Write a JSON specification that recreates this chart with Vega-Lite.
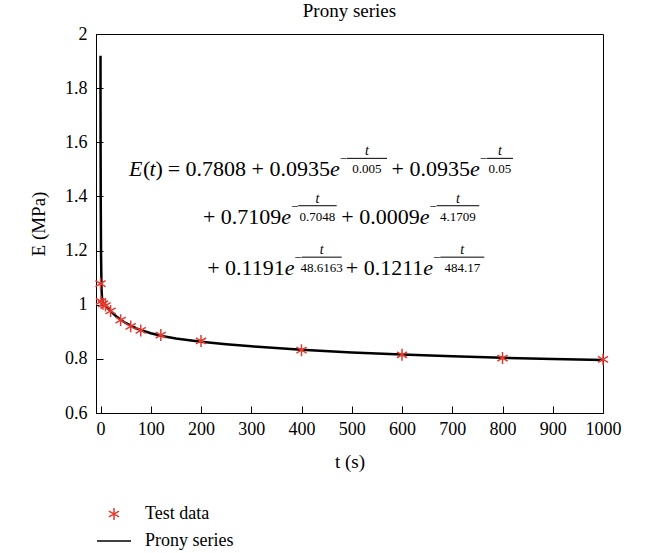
{
  "$schema": "https://vega.github.io/schema/vega-lite/v6.json",
  "width": 507,
  "height": 379,
  "autosize": "none",
  "padding": {"left": 96, "top": 34, "right": 45, "bottom": 140},
  "title": {"text": "Prony series", "fontSize": 19, "font": "Liberation Serif", "fontWeight": "normal", "color": "black", "offset": 4, "anchor": "middle"},
  "datasets": {
    "prony": [
      {"t": 0, "E": 1.9198, "series": "Prony series"},
      {"t": 0.05, "E": 1.7184, "series": "Prony series"},
      {"t": 0.2, "E": 1.5583, "series": "Prony series"},
      {"t": 0.5, "E": 1.3702, "series": "Prony series"},
      {"t": 1, "E": 1.1911, "series": "Prony series"},
      {"t": 2, "E": 1.0579, "series": "Prony series"},
      {"t": 3, "E": 1.0236, "series": "Prony series"},
      {"t": 5, "E": 1.009, "series": "Prony series"},
      {"t": 10, "E": 0.9965, "series": "Prony series"},
      {"t": 20, "E": 0.9759, "series": "Prony series"},
      {"t": 30, "E": 0.9589, "series": "Prony series"},
      {"t": 40, "E": 0.9446, "series": "Prony series"},
      {"t": 50, "E": 0.9326, "series": "Prony series"},
      {"t": 60, "E": 0.9225, "series": "Prony series"},
      {"t": 75, "E": 0.91, "series": "Prony series"},
      {"t": 100, "E": 0.8945, "series": "Prony series"},
      {"t": 125, "E": 0.8835, "series": "Prony series"},
      {"t": 150, "E": 0.8751, "series": "Prony series"},
      {"t": 200, "E": 0.8629, "series": "Prony series"},
      {"t": 250, "E": 0.8538, "series": "Prony series"},
      {"t": 300, "E": 0.8462, "series": "Prony series"},
      {"t": 400, "E": 0.8338, "series": "Prony series"},
      {"t": 500, "E": 0.8239, "series": "Prony series"},
      {"t": 600, "E": 0.8159, "series": "Prony series"},
      {"t": 700, "E": 0.8093, "series": "Prony series"},
      {"t": 800, "E": 0.804, "series": "Prony series"},
      {"t": 900, "E": 0.7997, "series": "Prony series"},
      {"t": 1000, "E": 0.7962, "series": "Prony series"}
    ],
    "test": [
      {"t": 0, "E": 1.078, "series": "Test data"},
      {"t": 1, "E": 1.012, "series": "Test data"},
      {"t": 5, "E": 1.003, "series": "Test data"},
      {"t": 10, "E": 0.997, "series": "Test data"},
      {"t": 20, "E": 0.977, "series": "Test data"},
      {"t": 40, "E": 0.943, "series": "Test data"},
      {"t": 60, "E": 0.92, "series": "Test data"},
      {"t": 80, "E": 0.905, "series": "Test data"},
      {"t": 120, "E": 0.888, "series": "Test data"},
      {"t": 200, "E": 0.866, "series": "Test data"},
      {"t": 400, "E": 0.832, "series": "Test data"},
      {"t": 600, "E": 0.815, "series": "Test data"},
      {"t": 800, "E": 0.803, "series": "Test data"},
      {"t": 1000, "E": 0.798, "series": "Test data"}
    ],
    "eqBody": [
      {"x": 456.7, "y": 1.5, "label": "= 0.7808 + 0.0935"},
      {"x": 735.4, "y": 1.5, "label": "+ 0.0935"},
      {"x": 359.8, "y": 1.325, "label": "+ 0.7109"},
      {"x": 635.2, "y": 1.325, "label": "+ 0.0009"},
      {"x": 366.6, "y": 1.135, "label": "+ 0.1191"},
      {"x": 642.4, "y": 1.135, "label": "+ 0.1211"}
    ],
    "eqItalic": [
      {"x": 56.7, "y": 1.5, "label": "E"},
      {"x": 97.5, "y": 1.5, "label": "t"},
      {"x": 456.7, "y": 1.5, "label": "e"},
      {"x": 735.4, "y": 1.5, "label": "e"},
      {"x": 359.8, "y": 1.325, "label": "e"},
      {"x": 635.2, "y": 1.325, "label": "e"},
      {"x": 366.6, "y": 1.135, "label": "e"},
      {"x": 642.4, "y": 1.135, "label": "e"}
    ],
    "eqParen": [
      {"x": 84.6, "y": 1.5, "label": "("},
      {"x": 109.5, "y": 1.5, "label": ")"}
    ],
    "eqFrac": [
      {"x": 490.5, "x2": 570.1, "xc": 530.3, "y": 1.5, "label": "0.005"},
      {"x": 769.2, "x2": 821, "xc": 795, "y": 1.5, "label": "0.05"},
      {"x": 393.6, "x2": 470, "xc": 431.8, "y": 1.325, "label": "0.7048"},
      {"x": 669, "x2": 753.8, "xc": 711.4, "y": 1.325, "label": "4.1709"},
      {"x": 400.4, "x2": 480, "xc": 440.2, "y": 1.135, "label": "48.6163"},
      {"x": 676.2, "x2": 763.8, "xc": 720, "y": 1.135, "label": "484.17"}
    ]
  },
  "layer": [
    {
      "data": {"name": "prony"},
      "mark": {"type": "line", "strokeWidth": 2.5, "clip": true},
      "encoding": {
        "x": {"field": "t", "type": "quantitative", "scale": {"domain": [-9, 1000], "nice": false, "zero": false},
          "axis": {"title": "t (s)", "values": [0, 100, 200, 300, 400, 500, 600, 700, 800, 900, 1000], "format": "d", "tickSize": -7, "labelPadding": 14, "titlePadding": 14}},
        "y": {"field": "E", "type": "quantitative", "scale": {"domain": [0.6, 2], "nice": false, "zero": false},
          "axis": {"title": "E (MPa)", "values": [0.6, 0.8, 1, 1.2, 1.4, 1.6, 1.8, 2], "format": "~g", "tickSize": -7, "labelPadding": 16, "titlePadding": 16}},
        "color": {"field": "series", "type": "nominal", "scale": {"domain": ["Test data", "Prony series"], "range": ["#e5392e", "#000000"]},
          "legend": {"title": null, "orient": "none", "legendX": 0, "legendY": 462, "symbolSize": 1156, "labelOffset": 13, "symbolStrokeWidth": 1.5, "padding": 0, "labelFontSize": 18, "labelFont": "Liberation Serif", "labelColor": "black", "rowPadding": -7}},
        "order": {"field": "t", "type": "quantitative"}
      }
    },
    {
      "data": {"name": "test"},
      "mark": {"type": "point", "filled": false, "size": 1156, "strokeWidth": 1.5, "opacity": 1},
      "encoding": {
        "x": {"field": "t", "type": "quantitative"},
        "y": {"field": "E", "type": "quantitative"},
        "color": {"field": "series", "type": "nominal"},
        "shape": {"field": "series", "type": "nominal", "scale": {"domain": ["Test data", "Prony series"], "range": ["M0,-0.35L0,0.35M-0.3,-0.175L0.3,0.175M-0.3,0.175L0.3,-0.175", "stroke"]}}
      }
    },
    {
      "data": {"name": "eqBody"},
      "mark": {"type": "text", "align": "right", "baseline": "middle", "fontSize": 22, "font": "Liberation Serif", "color": "black"},
      "encoding": {"x": {"field": "x", "type": "quantitative"}, "y": {"field": "y", "type": "quantitative"}, "text": {"field": "label"}}
    },
    {
      "data": {"name": "eqItalic"},
      "mark": {"type": "text", "align": "left", "baseline": "middle", "fontSize": 22, "font": "Liberation Serif", "fontStyle": "italic", "color": "black"},
      "encoding": {"x": {"field": "x", "type": "quantitative"}, "y": {"field": "y", "type": "quantitative"}, "text": {"field": "label"}}
    },
    {
      "data": {"name": "eqParen"},
      "mark": {"type": "text", "align": "left", "baseline": "middle", "fontSize": 22, "font": "Liberation Serif", "color": "black"},
      "encoding": {"x": {"field": "x", "type": "quantitative"}, "y": {"field": "y", "type": "quantitative"}, "text": {"field": "label"}}
    },
    {
      "data": {"name": "eqFrac"},
      "mark": {"type": "text", "align": "center", "baseline": "middle", "fontSize": 13, "font": "Liberation Serif", "color": "black"},
      "encoding": {"x": {"field": "xc", "type": "quantitative"}, "y": {"field": "y", "type": "quantitative"}, "text": {"field": "label"}}
    },
    {
      "data": {"name": "eqFrac"},
      "mark": {"type": "text", "align": "center", "baseline": "middle", "fontSize": 14, "font": "Liberation Serif", "fontStyle": "italic", "color": "black", "dy": -18},
      "encoding": {"x": {"field": "xc", "type": "quantitative"}, "y": {"field": "y", "type": "quantitative"}, "text": {"value": "t"}}
    },
    {
      "data": {"name": "eqFrac"},
      "mark": {"type": "rule", "strokeWidth": 1, "color": "black", "yOffset": -11},
      "encoding": {"x": {"field": "x", "type": "quantitative"}, "x2": {"field": "x2"}, "y": {"field": "y", "type": "quantitative"}}
    },
    {
      "data": {"name": "eqFrac"},
      "mark": {"type": "text", "align": "right", "baseline": "middle", "fontSize": 13, "font": "Liberation Serif", "color": "black", "dy": -10, "dx": 0},
      "encoding": {"x": {"field": "x", "type": "quantitative"}, "y": {"field": "y", "type": "quantitative"}, "text": {"value": "−"}}
    }
  ],
  "config": {
    "view": {"stroke": "black", "strokeWidth": 1},
    "axis": {"grid": false, "domainColor": "black", "tickColor": "black", "labelFont": "Liberation Serif", "labelFontSize": 18, "labelColor": "black", "titleFont": "Liberation Serif", "titleFontSize": 19, "titleFontWeight": "normal", "titleColor": "black", "labelFlush": false, "labelOverlap": false}
  }
}
